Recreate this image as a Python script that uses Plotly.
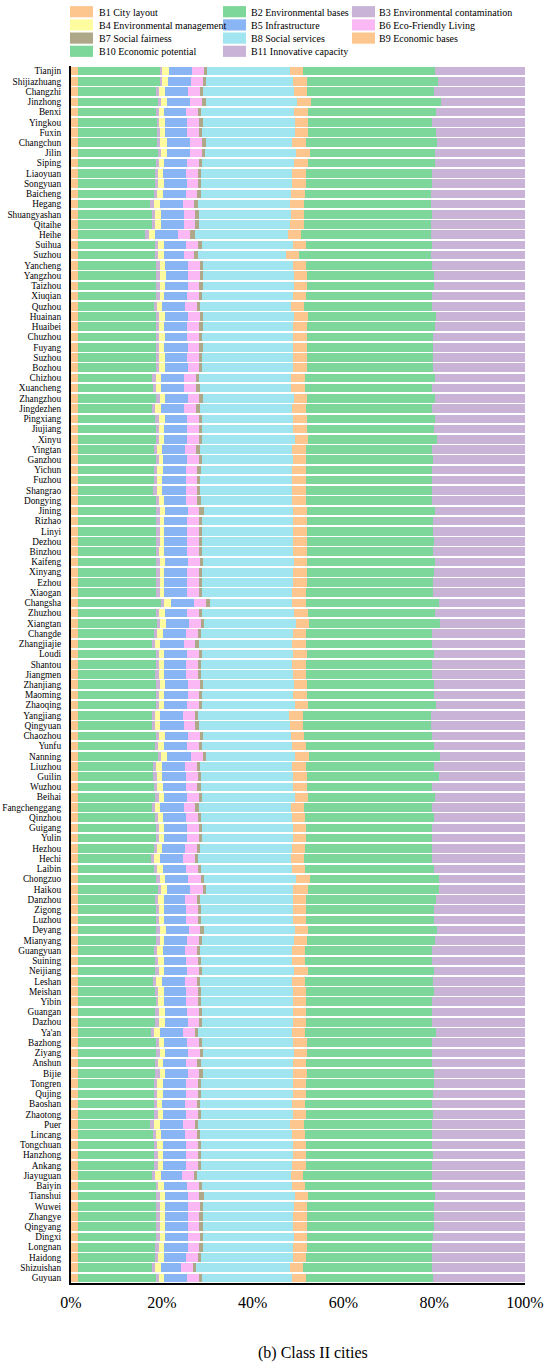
import plotly.graph_objects as go

cities = [
    "Tianjin", "Shijiazhuang", "Changzhi", "Jinzhong", "Benxi", "Yingkou", "Fuxin", "Changchun", "Jilin", "Siping",
    "Liaoyuan", "Songyuan", "Baicheng", "Hegang", "Shuangyashan", "Qitaihe", "Heihe", "Suihua", "Suzhou", "Yancheng",
    "Yangzhou", "Taizhou", "Xiuqian", "Quzhou", "Huainan", "Huaibei", "Chuzhou", "Fuyang", "Suzhou", "Bozhou",
    "Chizhou", "Xuancheng", "Zhangzhou", "Jingdezhen", "Pingxiang", "Jiujiang", "Xinyu", "Yingtan", "Ganzhou", "Yichun",
    "Fuzhou", "Shangrao", "Dongying", "Jining", "Rizhao", "Linyi", "Dezhou", "Binzhou", "Kaifeng", "Xinyang",
    "Ezhou", "Xiaogan", "Changsha", "Zhuzhou", "Xiangtan", "Changde", "Zhangjiajie", "Loudi", "Shantou", "Jiangmen",
    "Zhanjiang", "Maoming", "Zhaoqing", "Yangjiang", "Qingyuan", "Chaozhou", "Yunfu", "Nanning", "Liuzhou", "Guilin",
    "Wuzhou", "Beihai", "Fangchenggang", "Qinzhou", "Guigang", "Yulin", "Hezhou", "Hechi", "Laibin", "Chongzuo",
    "Haikou", "Danzhou", "Zigong", "Luzhou", "Deyang", "Mianyang", "Guangyuan", "Suining", "Neijiang", "Leshan",
    "Meishan", "Yibin", "Guangan", "Dazhou", "Ya'an", "Bazhong", "Ziyang", "Anshun", "Bijie", "Tongren",
    "Qujing", "Baoshan", "Zhaotong", "Puer", "Lincang", "Tongchuan", "Hanzhong", "Ankang", "Jiayuguan", "Baiyin",
    "Tianshui", "Wuwei", "Zhangye", "Qingyang", "Dingxi", "Longnan", "Haidong", "Shizuishan", "Guyuan",
]

# shares (%) of each indicator, one value per city, same order as cities
b1 = [1.6, 1.6] + [1.5] * 50 + [1.6] + [1.5] * 14 + [1.6] + [1.5] * 51

b2 = [17.9, 18.0, 17.3, 17.6, 17.4, 17.4, 17.5, 17.4, 17.7, 17.3,
      16.9, 17.0, 16.8, 16.0, 16.4, 16.4, 14.9, 17.1, 16.9, 17.3,
      17.3, 17.3, 17.3, 16.7, 17.3, 17.3, 17.3, 17.3, 17.3, 17.3,
      16.4, 16.5, 17.3, 16.4, 17.1, 17.1, 17.3, 16.7, 17.1, 16.8,
      16.7, 16.6, 17.1, 17.3, 17.3, 17.3, 17.3, 17.2, 17.3, 17.3,
      17.3, 17.3, 18.2, 17.3, 17.5, 16.8, 16.4, 17.1, 17.1, 17.1,
      17.3, 17.3, 17.1, 16.3, 16.4, 17.3, 17.1, 17.6, 16.5, 16.6,
      16.8, 17.1, 16.4, 16.9, 17.3, 17.1, 16.8, 16.0, 16.8, 17.3,
      17.6, 16.9, 17.1, 17.1, 17.3, 17.3, 16.8, 16.9, 17.1, 16.5,
      16.9, 17.1, 17.1, 17.1, 16.2, 17.1, 17.1, 16.9, 17.1, 16.7,
      16.7, 16.7, 16.8, 15.8, 16.5, 16.8, 16.8, 16.8, 16.3, 17.1,
      17.3, 17.3, 17.3, 17.3, 17.3, 17.1, 16.9, 16.3, 17.1]

b3 = [0.6, 0.4, 0.7, 0.7, 0.4, 0.5, 0.5, 0.7, 0.7, 0.6,
      0.7, 0.6, 0.7, 0.8, 0.7, 0.7, 0.9, 0.5, 0.7, 0.7,
      0.7, 0.7, 0.7, 0.7, 0.6, 0.6, 0.6, 0.6, 0.6, 0.6,
      0.7, 0.7, 0.7, 0.7, 0.7, 0.7, 0.6, 0.7, 0.7, 0.7,
      0.7, 0.8, 0.7, 0.7, 0.7, 0.7, 0.7, 0.7, 0.7, 0.7,
      0.7, 0.7, 0.7, 0.6, 0.7, 0.7, 0.7, 0.7, 0.7, 0.7,
      0.7, 0.6, 0.7, 0.7, 0.7, 0.6, 0.6, 0.7, 0.7, 0.8,
      0.7, 0.7, 0.7, 0.7, 0.6, 0.7, 0.7, 0.8, 0.7, 0.7,
      0.7, 0.8, 0.7, 0.7, 0.7, 0.7, 0.7, 0.7, 0.7, 0.7,
      0.7, 0.6, 0.7, 0.7, 0.6, 0.7, 0.9, 0.7, 0.9, 0.7,
      0.7, 0.7, 0.7, 1.0, 0.7, 0.7, 0.7, 0.8, 0.7, 0.6,
      0.7, 0.7, 0.7, 0.7, 0.7, 0.7, 0.8, 0.8, 0.7]

b4 = [1.4, 1.4, 1.2, 1.3, 1.2, 1.3, 1.3, 1.5, 1.3, 1.1,
      1.2, 1.3, 1.2, 1.3, 1.3, 1.3, 1.3, 1.3, 1.3, 1.2,
      1.3, 1.3, 1.0, 1.2, 1.3, 1.2, 1.2, 1.2, 1.2, 1.2,
      1.1, 1.2, 1.2, 1.3, 1.3, 1.1, 1.1, 1.2, 1.0, 1.2,
      1.2, 1.2, 1.2, 1.3, 1.0, 1.0, 1.0, 1.1, 1.2, 1.0,
      1.0, 1.0, 1.5, 1.3, 1.3, 1.3, 1.0, 1.1, 1.1, 1.1,
      1.1, 1.1, 1.1, 1.0, 1.1, 1.2, 1.2, 1.3, 1.3, 1.2,
      1.2, 1.2, 1.1, 1.2, 1.1, 1.1, 1.1, 1.3, 1.2, 1.2,
      1.3, 1.2, 1.1, 1.1, 1.5, 1.0, 1.2, 1.3, 1.2, 1.3,
      1.3, 1.2, 1.3, 1.3, 1.3, 1.2, 1.2, 1.1, 1.2, 1.3,
      1.3, 1.0, 1.3, 1.3, 1.2, 1.3, 1.2, 1.2, 1.3, 1.3,
      1.2, 1.2, 1.2, 1.2, 1.2, 1.2, 1.2, 1.3, 1.2]

b5 = [5.1, 5.1, 5.1, 5.1, 4.8, 4.9, 4.8, 5.1, 5.0, 5.1,
      5.0, 5.1, 5.0, 5.0, 5.0, 4.9, 5.1, 5.0, 4.4, 5.0,
      5.0, 4.9, 5.0, 5.0, 5.0, 5.0, 5.0, 5.1, 5.0, 5.1,
      5.1, 5.0, 5.0, 5.1, 5.0, 5.1, 5.1, 5.0, 5.1, 5.0,
      5.1, 5.1, 4.7, 4.9, 5.1, 5.0, 5.0, 5.0, 5.0, 5.0,
      5.0, 5.0, 5.1, 4.9, 5.0, 5.1, 5.3, 5.1, 4.9, 5.0,
      5.1, 5.2, 5.1, 5.1, 5.1, 5.1, 5.1, 5.2, 5.1, 5.1,
      5.0, 5.1, 5.1, 5.0, 5.1, 5.1, 5.1, 5.1, 5.1, 5.1,
      5.1, 4.7, 5.0, 5.0, 4.9, 5.1, 5.0, 4.9, 5.1, 5.0,
      5.0, 5.0, 5.0, 5.1, 5.1, 5.0, 5.0, 5.0, 5.0, 5.1,
      5.2, 5.1, 5.0, 5.1, 5.1, 5.1, 5.1, 5.0, 4.6, 5.1,
      5.1, 5.0, 5.0, 5.0, 5.1, 5.3, 5.0, 4.4, 5.0]

b6 = [2.6, 2.6, 2.6, 2.6, 2.7, 2.6, 2.6, 2.6, 2.7, 2.5,
      2.6, 2.5, 2.6, 2.5, 2.5, 2.6, 2.6, 2.6, 2.4, 2.6,
      2.5, 2.6, 2.6, 2.6, 2.7, 2.6, 2.6, 2.6, 2.6, 2.5,
      2.6, 2.5, 2.6, 2.5, 2.6, 2.6, 2.6, 2.5, 2.6, 2.6,
      2.5, 2.5, 2.6, 2.6, 2.6, 2.6, 2.6, 2.6, 2.6, 2.6,
      2.6, 2.6, 2.6, 2.6, 2.6, 2.6, 2.5, 2.6, 2.6, 2.6,
      2.6, 2.5, 2.6, 2.6, 2.6, 2.6, 2.6, 2.6, 2.6, 2.7,
      2.6, 2.6, 2.6, 2.6, 2.6, 2.6, 2.6, 2.6, 2.6, 2.8,
      2.8, 2.6, 2.6, 2.6, 2.6, 2.6, 2.6, 2.6, 2.6, 2.6,
      2.6, 2.6, 2.6, 2.5, 2.6, 2.6, 2.6, 2.6, 2.6, 2.6,
      2.6, 2.6, 2.6, 2.6, 2.7, 2.6, 2.6, 2.6, 2.6, 2.6,
      2.5, 2.6, 2.6, 2.6, 2.5, 2.5, 2.6, 2.6, 2.6]

b7 = [0.8, 0.7, 0.7, 0.9, 0.7, 0.8, 0.7, 0.9, 0.7, 0.8,
      0.8, 0.7, 0.7, 0.8, 0.8, 0.7, 1.0, 0.9, 0.7, 0.7,
      0.7, 0.7, 0.7, 0.7, 0.7, 0.9, 0.7, 0.7, 0.7, 0.7,
      0.8, 0.9, 0.7, 0.9, 0.7, 0.7, 0.7, 0.9, 0.7, 0.7,
      0.7, 0.7, 0.7, 0.9, 0.7, 0.7, 0.7, 0.7, 0.7, 0.7,
      0.7, 0.7, 0.9, 0.7, 0.7, 0.7, 0.8, 0.7, 0.7, 0.7,
      0.7, 0.7, 0.7, 0.7, 0.8, 0.7, 0.7, 0.8, 0.7, 0.7,
      0.7, 0.7, 0.7, 0.7, 0.7, 0.7, 0.7, 0.7, 0.7, 0.7,
      0.7, 0.7, 0.7, 0.7, 0.7, 0.7, 0.7, 0.7, 0.7, 0.7,
      0.7, 0.7, 0.7, 0.7, 0.7, 0.7, 0.7, 0.7, 0.7, 0.7,
      0.7, 0.7, 0.7, 0.7, 0.7, 0.7, 0.7, 0.7, 0.7, 0.7,
      0.9, 0.7, 0.7, 0.7, 0.7, 0.7, 0.7, 0.7, 0.7]

b8 = [18.3, 19.1, 20.1, 20.1, 20.4, 20.3, 20.4, 19.1, 19.9, 20.2,
      20.0, 20.1, 20.0, 20.3, 20.2, 20.2, 20.5, 19.9, 19.5, 19.9,
      20.0, 20.1, 20.1, 19.9, 20.0, 19.9, 20.0, 20.0, 20.0, 20.0,
      20.3, 20.2, 20.1, 20.4, 20.0, 20.1, 20.4, 20.2, 20.0, 20.1,
      20.2, 20.2, 20.1, 19.7, 20.0, 20.0, 20.0, 20.0, 20.0, 20.0,
      20.0, 19.9, 18.0, 20.2, 20.3, 20.1, 20.5, 20.0, 20.1, 20.1,
      20.0, 20.0, 20.4, 20.1, 20.1, 19.4, 19.9, 19.5, 20.3, 20.2,
      20.3, 20.4, 20.3, 20.0, 20.0, 20.0, 20.1, 20.3, 20.0, 20.3,
      19.3, 20.4, 20.1, 20.1, 20.2, 20.1, 20.2, 20.1, 20.2, 20.2,
      20.1, 20.1, 20.0, 20.0, 20.6, 20.1, 20.0, 20.3, 20.0, 20.1,
      20.1, 20.2, 20.1, 20.3, 20.2, 20.2, 20.1, 20.1, 20.7, 19.6,
      20.1, 20.0, 20.0, 20.0, 20.0, 19.9, 20.1, 20.6, 19.8]

b9 = [2.9, 3.1, 2.9, 3.0, 3.1, 3.0, 2.9, 3.1, 3.1, 3.0,
      3.0, 3.0, 2.9, 3.1, 3.0, 3.0, 3.0, 2.9, 2.8, 2.9,
      2.9, 2.9, 2.9, 2.9, 3.1, 3.1, 3.1, 3.1, 3.1, 3.1,
      3.0, 3.0, 2.9, 3.0, 3.1, 3.1, 2.9, 3.0, 2.9, 3.0,
      3.0, 3.0, 3.0, 3.1, 3.1, 3.1, 3.1, 3.1, 2.9, 3.1,
      3.1, 3.1, 3.0, 3.0, 2.9, 2.9, 3.0, 3.1, 2.9, 2.9,
      2.9, 3.1, 3.0, 3.1, 2.9, 2.9, 3.1, 3.1, 3.1, 3.1,
      3.1, 3.0, 2.9, 2.9, 2.9, 2.9, 2.9, 2.9, 2.9, 2.9,
      3.2, 2.9, 3.0, 3.0, 2.9, 2.9, 2.9, 2.9, 3.0, 3.0,
      2.9, 2.9, 2.9, 2.9, 2.9, 3.0, 3.0, 2.9, 3.0, 3.0,
      3.0, 2.9, 2.9, 3.0, 2.9, 2.9, 2.9, 2.9, 2.6, 2.9,
      2.9, 3.0, 3.0, 3.0, 3.0, 3.1, 2.9, 2.8, 3.0]

b10 = [28.9, 28.8, 27.9, 28.8, 28.2, 27.3, 28.2, 28.9, 27.6, 28.1,
       27.9, 27.7, 27.9, 28.1, 28.1, 28.0, 28.6, 27.9, 29.0, 27.7,
       27.9, 27.9, 27.7, 28.2, 28.2, 28.2, 27.8, 27.7, 27.8, 27.7,
       28.5, 28.0, 28.1, 27.9, 28.1, 27.9, 28.5, 27.9, 27.9, 27.9,
       27.8, 27.9, 27.9, 28.1, 27.8, 27.8, 27.9, 27.8, 28.1, 28.0,
       27.8, 27.9, 29.3, 27.9, 28.7, 27.9, 27.9, 27.9, 27.9, 27.9,
       28.0, 27.9, 28.1, 28.2, 28.2, 28.1, 28.1, 28.7, 28.1, 29.0,
       27.6, 27.9, 28.2, 28.3, 27.7, 27.8, 28.1, 28.2, 28.3, 28.5,
       28.8, 28.5, 28.1, 28.0, 28.4, 28.3, 28.0, 28.0, 27.8, 28.1,
       28.1, 27.8, 27.8, 27.8, 28.8, 27.5, 27.5, 27.8, 27.9, 28.0,
       27.9, 28.0, 27.9, 28.2, 28.1, 27.8, 27.9, 27.9, 28.5, 28.0,
       27.9, 27.9, 27.9, 27.9, 27.7, 27.6, 27.9, 28.5, 28.1]

b11 = [19.9, 19.1, 20.1, 18.4, 19.7, 20.5, 19.6, 19.3, 19.8, 19.8,
       20.4, 20.6, 20.6, 20.7, 20.6, 20.7, 20.7, 20.4, 20.8, 20.4,
       20.1, 20.1, 20.4, 20.5, 19.7, 19.8, 20.2, 20.3, 20.2, 20.3,
       19.9, 20.4, 19.9, 20.4, 19.9, 20.0, 19.3, 20.4, 20.2, 20.4,
       20.5, 20.4, 20.4, 19.9, 20.2, 20.2, 20.1, 20.3, 19.9, 20.0,
       20.2, 20.2, 19.0, 19.9, 18.8, 20.4, 20.4, 20.1, 20.4, 20.4,
       20.0, 20.1, 19.6, 20.6, 20.6, 20.5, 20.1, 18.8, 20.1, 19.0,
       20.4, 19.9, 20.5, 20.1, 20.4, 20.4, 20.4, 20.5, 20.1, 18.9,
       19.0, 19.6, 20.0, 20.1, 19.3, 19.7, 20.4, 20.4, 20.1, 20.2,
       20.1, 20.4, 20.4, 20.4, 19.7, 20.4, 20.4, 20.4, 20.1, 20.1,
       20.2, 20.4, 20.2, 20.5, 20.4, 20.4, 20.2, 20.4, 20.5, 20.4,
       19.9, 20.0, 20.1, 20.1, 20.2, 20.4, 20.4, 20.5, 20.2]

names = [
    "B1 City layout", "B2 Environmental bases", "B3 Environmental contamination",
    "B4 Environmental management", "B5 Infrastructure", "B6 Eco-Friendly Living",
    "B7 Social fairness", "B8 Social services", "B9 Economic bases",
    "B10 Economic potential", "B11 Innovative capacity",
]
colors = ["#FDC68F", "#7DD69A", "#C9B3D7", "#FFFB9F", "#8AB5F5", "#FAB9F4",
          "#AFA888", "#A0E5EF", "#FDC68F", "#7DD69A", "#C9B3D7"]
series = [b1, b2, b3, b4, b5, b6, b7, b8, b9, b10, b11]

x_ticks = [0, 20, 40, 60, 80, 100]
x_labels = ["0%", "20%", "40%", "60%", "80%", "100%"]

rows = list(range(len(cities)))
font = "Liberation Serif, Times New Roman, serif"

W, H = 550, 1368
ML, MR, MT, MB = 71, 25, 66, 85
PW, PH = W - ML - MR, H - MT - MB


def px_x(px):
    return (px - ML) / PW


def px_y(py):
    return 1 + (MT - py) / PH


fig = go.Figure()
for name, vals, col in zip(names, series, colors):
    fig.add_trace(go.Bar(
        y=rows, x=vals, name=name, orientation="h", showlegend=False,
        marker=dict(color=col, line=dict(width=0)),
    ))

# legend drawn as three columns of swatches, like the original figure
col_sw = [70, 223, 352]
col_tx = [97, 249, 377]
for i, (name, col) in enumerate(zip(names, colors)):
    r, c = divmod(i, 3)
    yc = 11.7 + 13.2 * r
    fig.add_shape(type="rect", xref="paper", yref="paper",
                  x0=px_x(col_sw[c]), x1=px_x(col_sw[c] + 23),
                  y0=px_y(yc - 5.6), y1=px_y(yc + 5.6),
                  fillcolor=col, line=dict(width=0))
    fig.add_annotation(text=name, xref="paper", yref="paper",
                       x=px_x(col_tx[c]), y=px_y(yc + 0.5),
                       xanchor="left", yanchor="middle", showarrow=False,
                       font=dict(size=10, family=font, color="black"))

fig.update_layout(
    barmode="stack",
    barnorm="percent",
    bargap=0.16,
    width=W,
    height=H,
    margin=dict(l=ML, r=MR, t=MT, b=MB),
    plot_bgcolor="white",
    paper_bgcolor="white",
    font=dict(family=font, color="black"),
    showlegend=False,
)

fig.update_xaxes(
    range=[0, 100], tickmode="array", tickvals=x_ticks, ticktext=x_labels,
    tickfont=dict(size=16, family=font, color="black"), showgrid=False, zeroline=False,
    showline=True, linecolor="black", linewidth=2, ticks="", ticklabelstandoff=4,
    automargin=False,
)
fig.update_yaxes(
    tickmode="array", tickvals=rows, ticktext=cities, range=[len(cities) - 0.5, -0.5],
    tickfont=dict(size=9.3, family=font, color="black"), showgrid=False, zeroline=False,
    showline=True, linecolor="black", linewidth=2, ticks="", ticklabelstandoff=6,
    automargin=False,
)

fig.add_annotation(
    text="(b) Class II cities", xref="paper", yref="paper",
    x=px_x(313), y=px_y(1353), xanchor="center", yanchor="middle",
    showarrow=False, font=dict(size=16, family=font, color="black"),
)

# drop the browser's default page margin so the figure sits at the window origin
fig.write_html(
    "out.html",
    config={"displayModeBar": False},
    post_script="document.body.style.margin = '0';",
)
